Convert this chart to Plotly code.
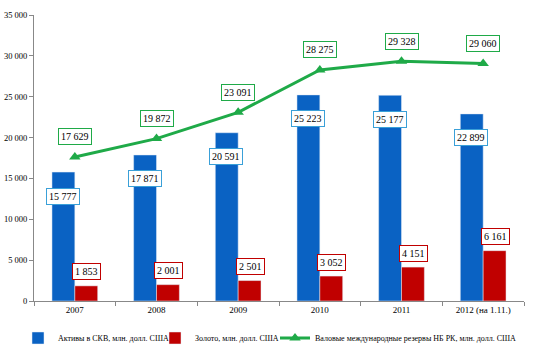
import plotly.graph_objects as go

years = ["2007", "2008", "2009", "2010", "2011", "2012 (на 1.11.)"]
assets = [15777, 17871, 20591, 25223, 25177, 22899]
gold = [1853, 2001, 2501, 3052, 4151, 6161]
reserves = [17629, 19872, 23091, 28275, 29328, 29060]

names = ["Активы в СКВ, млн. долл. США", "Золото, млн. долл. США",
         "Валовые международные резервы НБ РК, млн. долл. США"]

BLUE = "#0a62c3"
RED = "#c00000"
GREEN = "#1faa48"
FONT = "Liberation Serif"

W, H = 534, 356

def fmt(v):
    return f"{v:,}".replace(",", " ")

fig = go.Figure()
fig.add_trace(go.Bar(x=years, y=assets, name=names[0], marker_color=BLUE, legend="legend"))
fig.add_trace(go.Bar(x=years, y=gold, name=names[1], marker_color=RED, legend="legend2"))
fig.add_trace(go.Scatter(x=years, y=reserves, name=names[2], mode="lines+markers",
                         line=dict(color=GREEN, width=3), legend="legend3",
                         marker=dict(symbol="triangle-up", size=10, color=GREEN)))

ann = []
for i, v in enumerate(assets):
    ann.append(dict(x=i, y=v, xshift=-12, yshift=-24, text=fmt(v), showarrow=False,
                    bgcolor="white", bordercolor="#3aa0d8", borderwidth=1, borderpad=2,
                    font=dict(family=FONT, size=10, color="black")))
for i, v in enumerate(gold):
    ann.append(dict(x=i, y=v, xshift=12, yshift=14, text=fmt(v), showarrow=False,
                    bgcolor="white", bordercolor=RED, borderwidth=1, borderpad=2,
                    font=dict(family=FONT, size=10, color="black")))
for i, v in enumerate(reserves):
    ann.append(dict(x=i, y=v, yshift=20, text=fmt(v), showarrow=False,
                    bgcolor="white", bordercolor=GREEN, borderwidth=1, borderpad=2,
                    font=dict(family=FONT, size=10, color="black")))

leg = dict(orientation="h", y=1 - 338 / H, yanchor="middle", xref="container",
           yref="container", xanchor="left",
           font=dict(family=FONT, size=8), itemwidth=30, bgcolor="rgba(0,0,0,0)")

fig.update_layout(
    width=W, height=H,
    margin=dict(l=34, r=10, t=15, b=55),
    paper_bgcolor="white", plot_bgcolor="white",
    barmode="group", bargap=0.44, bargroupgap=0,
    separators=". ",
    font=dict(family=FONT, size=9, color="black"),
    annotations=ann,
    showlegend=True,
    legend=dict(leg, x=18 / W),
    legend2=dict(leg, x=155 / W),
    legend3=dict(leg, x=275 / W),
    xaxis=dict(type="category", showline=True, linecolor="#888", ticks="outside",
               tickson="boundaries", ticklen=4, tickcolor="#888", automargin=False,
               tickfont=dict(family=FONT, size=9), showgrid=False),
    yaxis=dict(range=[0, 35000], dtick=5000, tickformat=",d", showline=True,
               linecolor="#888", ticks="outside", ticklen=4, tickcolor="#888",
               automargin=False, showgrid=False, zeroline=False,
               tickfont=dict(family=FONT, size=8.5)),
)

fig.write_html("out.html", config={"displayModeBar": False},
               post_script="document.body.style.margin='0';")
